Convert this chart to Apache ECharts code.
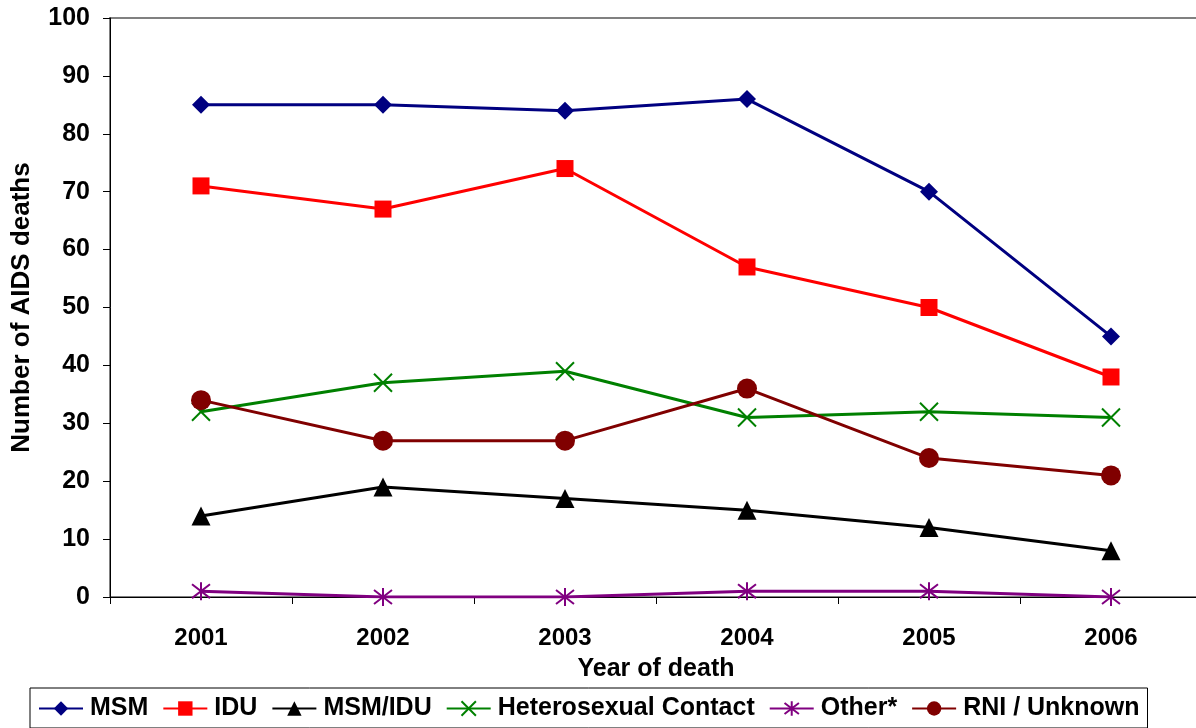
<!DOCTYPE html>
<html><head><meta charset="utf-8">
<script src="https://cdn.jsdelivr.net/npm/echarts@6/dist/echarts.min.js"></script>
<style>html,body{margin:0;padding:0;background:#fff}#c{width:1196px;height:728px}</style>
</head><body><div id="c"></div>
<script>
const years = ['2001','2002','2003','2004','2005','2006'];
const msm = [85,85,84,86,70,45];
const idu = [71,67,74,57,50,38];
const msmIdu = [14,19,17,15,12,8];
const hetero = [32,37,39,31,32,31];
const other = [1,0,0,1,1,0];
const rni = [34,27,27,36,24,21];
const yTicks = [0,10,20,30,40,50,60,70,80,90,100];

const F = '"Liberation Sans", Arial, sans-serif';
const crossPath = 'path://M0,0L10,10M10,0L0,10';
const starPath = 'path://M0,0L10,10M10,0L0,10M5,-1.5L5,11.5';

function mk(name, data, color, symbol, size, stroke) {
  return {
    name, type: 'line', data, symbol, symbolSize: size,
    lineStyle: {color, width: 3},
    itemStyle: stroke ? {color: 'rgba(0,0,0,0)', borderColor: color, borderWidth: 2} : {color},
    emphasis: {disabled: true}, z: 3
  };
}

const chart = echarts.init(document.getElementById('c'));
chart.setOption({
  animation: false,
  grid: {left: 110, width: 1092, top: 18, height: 579, outerBoundsMode: 'none', containLabel: false,
    show: true, borderColor: '#808080', borderWidth: 2},
  xAxis: {
    type: 'category', data: years, boundaryGap: true,
    name: 'Year of death', nameLocation: 'middle', nameGap: 60,
    nameTextStyle: {fontFamily: F, fontWeight: 'bold', fontSize: 25, color: '#000'},
    axisLine: {lineStyle: {color: '#000', width: 1}},
    axisTick: {show: true, length: 7, lineStyle: {color: '#000'}},
    axisLabel: {fontFamily: F, fontWeight: 'bold', fontSize: 24, color: '#000', margin: 29}
  },
  yAxis: {
    type: 'value', min: 0, max: 100, interval: 10,
    name: 'Number of AIDS deaths', nameLocation: 'middle', nameGap: 75,
    nameTextStyle: {fontFamily: F, fontWeight: 'bold', fontSize: 26, color: '#000'},
    axisLine: {show: true, lineStyle: {color: '#000', width: 1}},
    axisTick: {show: true, length: 7, lineStyle: {color: '#000'}},
    splitLine: {show: false},
    axisLabel: {fontFamily: F, fontWeight: 'bold', fontSize: 25, color: '#000', margin: 20,
      formatter: v => yTicks.includes(v) ? String(v) : ''}
  },
  legend: {
    left: 30, top: 688,
    padding: [8, 8, 7, 8],
    borderColor: '#000', borderWidth: 1,
    itemWidth: 44, itemHeight: 18, itemGap: 14,
    textStyle: {fontFamily: F, fontWeight: 'bold', fontSize: 25, color: '#000', padding: [0,0,0,2]},
    data: ['MSM','IDU','MSM/IDU','Heterosexual Contact','Other*','RNI / Unknown']
  },
  series: [
    mk('MSM', msm, '#000080', 'diamond', 18),
    mk('IDU', idu, '#FF0000', 'rect', 17),
    mk('MSM/IDU', msmIdu, '#000000', 'triangle', 19),
    mk('Heterosexual Contact', hetero, '#008000', crossPath, 18, true),
    mk('Other*', other, '#800080', starPath, 18, true),
    mk('RNI / Unknown', rni, '#800000', 'circle', 20)
  ]
});
</script></body></html>
